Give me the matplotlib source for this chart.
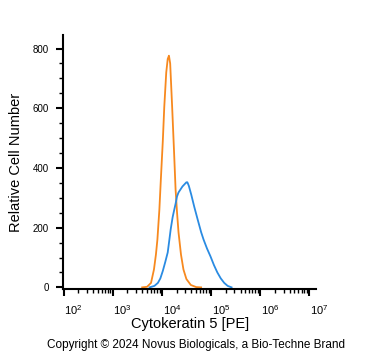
import matplotlib
matplotlib.use("Agg")
import matplotlib.pyplot as plt
import matplotlib.transforms as mtransforms
from matplotlib.ticker import LogLocator, MultipleLocator, NullFormatter
import numpy as np

plt.rcParams["mathtext.fontset"] = "custom"
plt.rcParams["mathtext.rm"] = "Liberation Sans"
plt.rcParams["mathtext.it"] = "Liberation Sans"

# isotype / control (orange) - log10 intensity vs count
ctrl_log = [3.60, 3.70, 3.78, 3.84, 3.88, 3.91, 3.95, 3.98, 4.02, 4.05, 4.09, 4.12,
            4.145, 4.17, 4.21, 4.25, 4.28, 4.31, 4.34, 4.39, 4.44, 4.50, 4.59, 4.70, 4.80]
ctrl_cnt = [0, 2, 15, 60, 110, 160, 260, 361, 490, 605, 720, 765,
            776, 750, 605, 450, 328, 250, 184, 110, 60, 28, 8, 1, 0]

# Cytokeratin 5 stained (blue)
ck5_log = [3.75, 3.85, 3.92, 3.97, 4.02, 4.07, 4.12, 4.15, 4.18, 4.22, 4.25, 4.28,
           4.31, 4.34, 4.38, 4.42, 4.46, 4.50, 4.52, 4.55, 4.60, 4.66, 4.73, 4.80,
           4.85, 4.92, 4.99, 5.06, 5.13, 5.20, 5.27, 5.34, 5.42]
ck5_cnt = [0, 5, 15, 30, 55, 85, 117, 155, 194, 235, 258, 280,
           305, 318, 328, 338, 345, 352, 352, 340, 310, 270, 227, 185,
           160, 130, 104, 75, 50, 30, 15, 5, 0]

xtick_pows = [2, 3, 4, 5, 6, 7]
yticks = [0, 200, 400, 600, 800]

fig = plt.figure(figsize=(3.71, 3.51), dpi=100)
ax = fig.add_axes([0.170, 0.177, 0.682, 0.723])

ax.plot(10 ** np.array(ctrl_log), ctrl_cnt, color="#F7891F", lw=1.3)
ax.plot(10 ** np.array(ck5_log), ck5_cnt, color="#2A8BE2", lw=1.3)

ax.set_xscale("log")
ax.set_xlim(10 ** 1.99, 10 ** 7.14)
ax.set_ylim(-5, 845)

ax.xaxis.set_minor_locator(LogLocator(base=10, subs=np.arange(2, 10), numticks=12))
ax.xaxis.set_minor_formatter(NullFormatter())
ax.set_xticks([10.0 ** p for p in xtick_pows])
ax.set_xticklabels([r"$\mathregular{10^{%d}}$" % p for p in xtick_pows])
ax.set_yticks(yticks)
ax.set_yticklabels([str(v) for v in yticks])
ax.yaxis.set_minor_locator(MultipleLocator(50))

for side in ["top", "right"]:
    ax.spines[side].set_visible(False)
for side in ["left", "bottom"]:
    ax.spines[side].set_linewidth(1.5)

ax.tick_params(which="major", direction="out", length=5, width=1.5, colors="black")
ax.tick_params(which="minor", direction="out", length=3, width=1)
ax.tick_params(axis="y", pad=5, labelsize=7)
ax.tick_params(axis="x", pad=5, labelsize=8)

shift = mtransforms.ScaledTranslation(0.10, 0, fig.dpi_scale_trans)
for lab in ax.get_xticklabels():
    lab.set_transform(lab.get_transform() + shift)
    lab.set_fontfamily("Liberation Sans")
for lab in ax.get_yticklabels():
    lab.set_fontfamily("Liberation Sans")

ax.set_ylabel("Relative Cell Number", fontsize=10.5, family="Liberation Sans")
ax.yaxis.set_label_coords(-0.16, 0.5)
ax.set_xlabel("Cytokeratin 5 [PE]", fontsize=10.5, family="Liberation Sans")
ax.xaxis.set_label_coords(0.5, -0.11)

fig.text(0.528, 0.018, "Copyright \u00a9 2024 Novus Biologicals, a Bio-Techne Brand",
         ha="center", va="center", fontsize=8.5, family="Liberation Sans")

fig.savefig("out.png", dpi=100)
